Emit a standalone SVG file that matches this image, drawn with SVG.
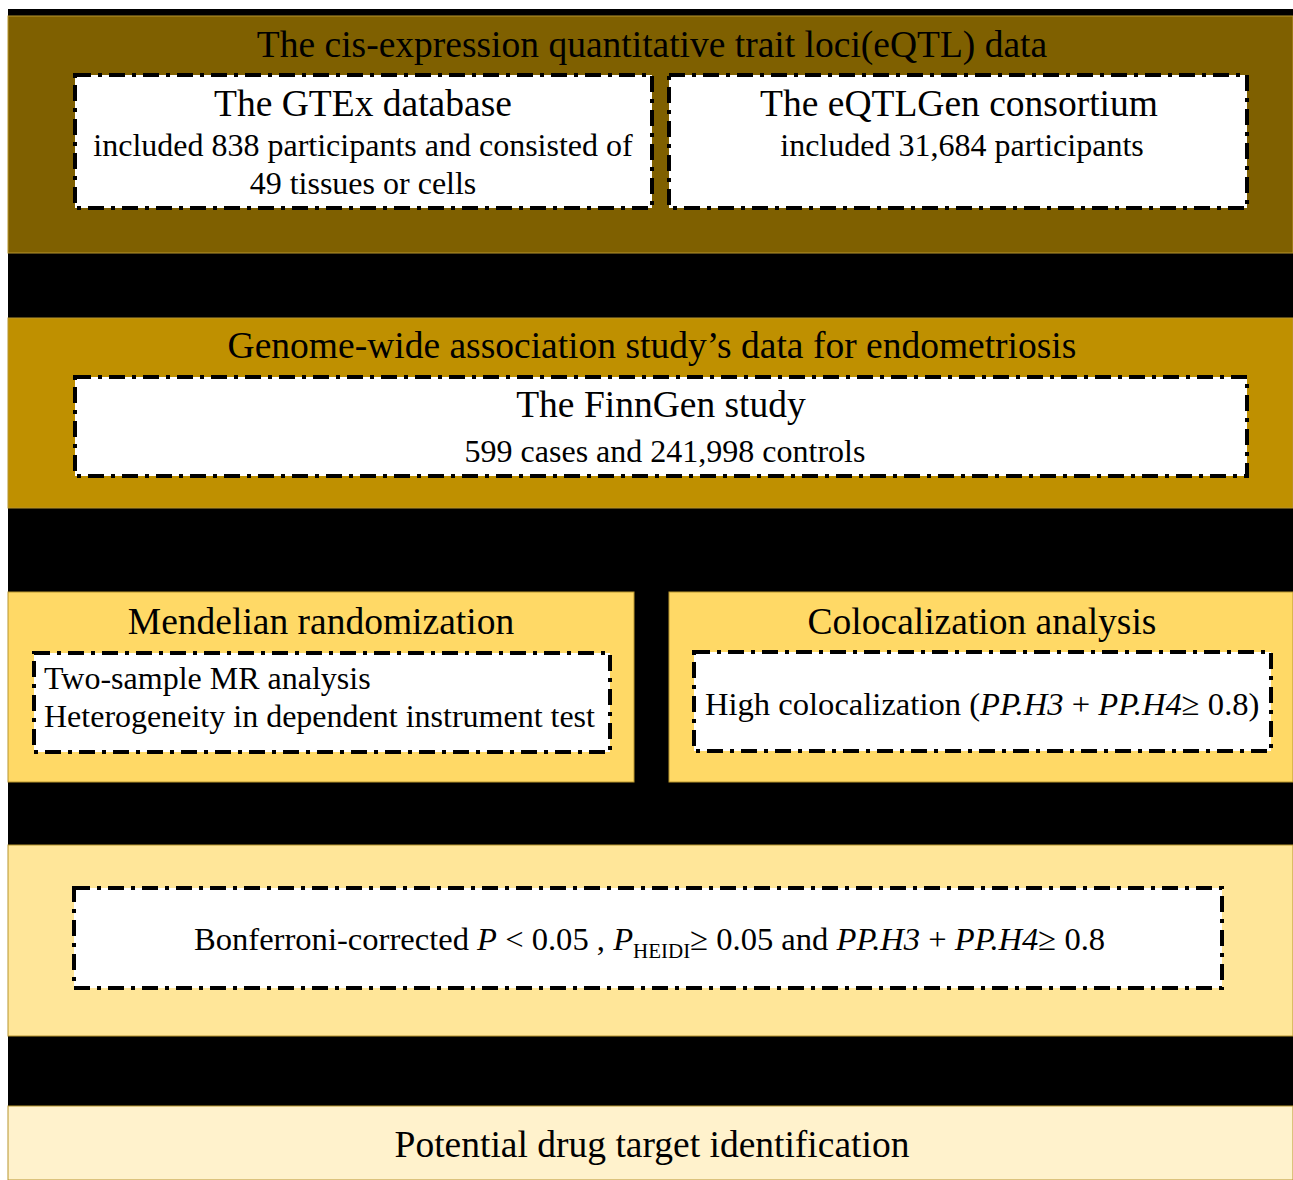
<svg xmlns="http://www.w3.org/2000/svg" width="1293" height="1180" viewBox="0 0 1293 1180">
<style>
.t{font-family:"Liberation Serif","Times New Roman",serif;fill:#000;}
.h{font-size:37.5px;}
.b{font-size:32px;}
.c{font-size:32.6px;}
.i{font-style:italic;}
.box{fill:#fff;stroke:#000;stroke-width:4;stroke-dasharray:16 7 4 7;}
.band{stroke:#b8952e;stroke-width:1;}
</style>
<rect x="0" y="0" width="1293" height="1180" fill="#fff"/>
<rect x="8" y="9" width="1285" height="1171" fill="#000"/>
<g id="band-eqtl">
<rect class="band" x="8" y="16" width="1285" height="237" fill="#7F6000"/>
<text class="t h" x="652" y="57" text-anchor="middle">The cis-expression quantitative trait loci(eQTL) data</text>
</g>
<g id="node-gtex">
<rect class="box" x="75" y="75" width="577" height="133"/>
<text class="t h" x="363" y="116" text-anchor="middle">The GTEx database</text>
<text class="t b" x="363" y="156" text-anchor="middle">included 838 participants and consisted of</text>
<text class="t b" x="363" y="194" text-anchor="middle">49 tissues or cells</text>
</g>
<g id="node-eqtlgen">
<rect class="box" x="669" y="75" width="578" height="133"/>
<text class="t h" x="959" y="116" text-anchor="middle">The eQTLGen consortium</text>
<text class="t b" x="962" y="156" text-anchor="middle">included 31,684 participants</text>
</g>
<g id="band-gwas">
<rect class="band" x="8" y="318" width="1285" height="190" fill="#BF9000"/>
<text class="t h" x="652" y="358" text-anchor="middle">Genome-wide association study’s data for endometriosis</text>
</g>
<g id="node-finngen">
<rect class="box" x="75" y="377" width="1172" height="99"/>
<text class="t h" x="661" y="417" text-anchor="middle">The FinnGen study</text>
<text class="t b" x="665" y="462" text-anchor="middle">599 cases and 241,998 controls</text>
</g>
<g id="band-mr">
<rect class="band" x="8" y="592" width="626" height="190" fill="#FFD966"/>
<text class="t h" x="321" y="634" text-anchor="middle">Mendelian randomization</text>
</g>
<g id="node-mr">
<rect class="box" x="34" y="653" width="576" height="99"/>
<text class="t b" x="44" y="689">Two-sample MR analysis</text>
<text class="t b" x="44" y="727">Heterogeneity in dependent instrument test</text>
</g>
<g id="band-coloc">
<rect class="band" x="669" y="592" width="624" height="190" fill="#FFD966"/>
<text class="t h" x="982" y="634" text-anchor="middle">Colocalization analysis</text>
</g>
<g id="node-coloc">
<rect class="box" x="694" y="652" width="577" height="99"/>
<text class="t c" x="705" y="715">High colocalization (<tspan class="i">PP.H3</tspan> + <tspan class="i">PP.H4</tspan>≥ 0.8)</text>
</g>
<g id="band-filter">
<rect class="band" x="8" y="845" width="1285" height="191" fill="#FFE699"/>
</g>
<g id="node-filter">
<rect class="box" x="74" y="888" width="1148" height="100"/>
<text class="t c" x="194" y="950">Bonferroni-corrected <tspan class="i">P</tspan> &lt; 0.05 , <tspan class="i">P</tspan><tspan font-size="21" dy="8">HEIDI</tspan><tspan dy="-8">≥ 0.05 and </tspan><tspan class="i">PP.H3</tspan> + <tspan class="i">PP.H4</tspan>≥ 0.8</text>
</g>
<g id="node-target">
<rect class="band" x="8" y="1106" width="1285" height="74" fill="#FFF2CC"/>
<text class="t h" x="652" y="1157" text-anchor="middle">Potential drug target identification</text>
</g>
<g id="connectors"></g>
</svg>
